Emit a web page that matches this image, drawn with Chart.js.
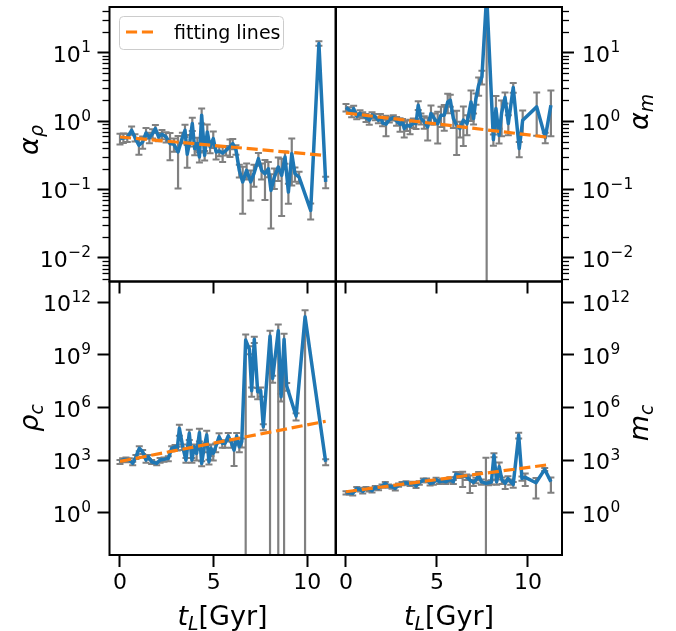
<!DOCTYPE html>
<html>
<head>
<meta charset="utf-8">
<script src="https://cdn.jsdelivr.net/npm/chart.js@4.4.1/dist/chart.umd.min.js"></script>
<style>
  html, body { margin: 0; padding: 0; background: #fff; }
  #wrap { position: relative; width: 676px; height: 631px; }
  #wrap canvas { position: absolute; left: 0; top: 0; }
</style>
</head>
<body>
<div id="wrap">
  <canvas id="tl" width="676" height="631"></canvas>
  <canvas id="tr" width="676" height="631"></canvas>
  <canvas id="bl" width="676" height="631"></canvas>
  <canvas id="br" width="676" height="631"></canvas>
</div>
<script>
// ---- data ----
// top left: alpha_rho vs t_L
const tAlphaRho = [0.00,0.18,0.39,0.62,0.80,1.01,1.21,1.39,1.57,1.74,1.89,2.06,2.24,2.46,2.67,2.88,3.10,3.33,3.47,3.59,
  3.74,3.86,3.99,4.13,4.24,4.36,4.52,4.66,4.81,4.98,5.13,5.30,5.48,5.66,5.87,6.02,6.19,6.37,6.55,6.76,
  6.98,7.15,7.39,7.56,7.74,7.92,8.06,8.24,8.45,8.63,8.81,8.99,9.17,9.34,9.56,10.18,10.62,10.98];
const alphaRho = [0.554,0.566,0.573,0.733,0.573,0.442,0.494,0.67,0.573,0.656,0.776,0.586,0.641,0.586,0.468,0.457,0.353,0.573,0.733,0.327,
  0.524,0.918,0.396,0.468,0.298,1.22,0.316,0.693,0.418,0.554,0.353,0.366,0.341,0.373,0.418,0.468,0.382,0.19,0.129,0.19,
  0.129,0.17,0.282,0.19,0.17,0.201,0.097,0.152,0.213,0.161,0.298,0.0917,0.334,0.17,0.152,0.0494,13.6,0.129];
const alphaRhoErr = [0.1,0.09,0.08,0.1,0.07,0.12,0.1,0.12,0.1,0.1,0.1,0.08,0.1,0.1,0.2,0.1,0.25,0.1,0.15,0.12,
  0.1,0.2,0.08,0.1,0.05,0.3,0.05,0.2,0.08,0.15,0.08,0.06,0.09,0.06,0.12,0.08,0.06,0.04,0.085,0.05,
  0.06,0.06,0.06,0.05,0.1,0.05,0.07,0.05,0.08,0.12,0.06,0.03,0.22,0.04,0.03,0.013,1.0,0.025];

// top right: alpha_m vs t_L
const tAlphaM = [0.00,0.18,0.31,0.42,0.59,0.77,0.92,1.10,1.28,1.43,1.61,1.78,1.89,2.01,2.20,2.38,2.60,2.78,2.97,3.11,
  3.20,3.35,3.52,3.70,3.85,3.97,4.12,4.30,4.49,4.67,4.85,5.04,5.22,5.40,5.59,5.73,5.90,6.08,6.26,6.45,
  6.65,6.87,7.01,7.14,7.29,7.47,7.73,8.10,8.24,8.41,8.55,8.74,8.92,9.19,9.52,9.71,10.48,10.95,11.26];
const alphaM = [1.58,1.44,1.29,1.52,1.18,1.29,1.22,1.12,1.03,1.22,1.15,1.03,1.15,0.94,0.898,1.05,1.12,1.0,0.898,0.97,
  0.776,0.868,0.84,0.94,0.918,1.70,1.09,0.97,0.82,1.29,1.09,0.918,1.22,1.22,1.90,2.02,1.09,0.868,0.776,1.03,
  0.918,1.90,1.09,2.13,3.34,4.43,70,0.536,1.52,0.62,1.3,2.21,0.918,3.09,0.396,1.03,1.61,0.573,1.70];
const alphaMErr = [0.2,0.15,0.15,0.15,0.12,0.15,0.12,0.15,0.15,0.12,0.12,0.1,0.12,0.1,0.3,0.1,0.1,0.15,0.2,0.1,
  0.2,0.15,0.2,0.15,0.15,0.25,0.2,0.2,0.3,0.4,0.2,0.45,0.4,0.5,0.6,0.4,0.3,0.55,0.2,0.6,
  0.3,0.9,0.2,0.4,1.0,1.0,150,0.1,0.8,0.15,0.7,0.4,0.3,0.5,0.1,0.4,1.0,0.1,1.1];

// bottom left: rho_c vs t_L
const tRhoC = [0.00,0.14,0.32,0.50,0.68,0.85,1.03,1.21,1.39,1.51,1.69,1.96,2.14,2.35,2.58,2.76,2.94,3.06,3.17,3.35,
  3.52,3.70,3.84,3.97,4.09,4.24,4.36,4.50,4.63,4.75,4.86,4.98,5.11,5.29,5.46,5.61,5.78,5.96,6.09,6.23,
  6.37,6.50,6.71,6.91,7.03,7.17,7.35,7.51,7.65,8.01,8.15,8.45,8.60,8.76,8.90,9.40,9.88,10.98];
const rhoC = [813,1014,1109,1014,655,1567,4710,3020,1014,1567,813,655,1014,1109,1260,4710,5820,4710,6.5e4,5820,
  1014,3.4e4,1014,5820,2450,3.66e4,655,5820,2.7e4,813,4710,2450,5820,2.17e4,9100,9100,2.37e4,9100,3760,2.37e4,
  5820,1.12e4,7.1e9,2.1e9,9.1e6,7.8e9,8e6,9.1e6,8.05e4,1.2e10,4.6e7,2.4e10,4.2e6,7.8e9,1.7e7,3.3e5,1.5e11,813];
const rhoCErr = [200,250,300,250,150,400,1500,800,300,400,200,150,300,300,400,1500,1500,1200,4e4,2000,
  300,2e4,300,2000,1500,2.5e4,200,3000,2e4,250,3000,1500,3000,1.2e4,4000,4000,1.2e4,4000,3300,1.2e4,
  3000,6000,7.5e9,1e9,5e6,3e9,5e6,5e6,3e4,1.22e10,2e7,3.1e10,2e6,8.5e9,8e6,1.5e5,2.1e11,300];

// bottom right: m_c vs t_L
const tMC = [0.00,0.18,0.37,0.59,0.77,0.92,1.10,1.28,1.43,1.61,1.79,1.98,2.16,2.34,2.53,2.71,2.89,3.08,3.30,3.52,
  3.70,3.85,4.03,4.25,4.43,4.62,4.80,4.95,5.13,5.31,5.49,5.71,5.90,6.04,6.23,6.41,6.63,6.81,7.00,7.14,
  7.29,7.44,7.69,7.84,7.99,8.13,8.28,8.42,8.57,8.75,8.90,9.05,9.19,9.49,9.67,9.85,10.44,10.92,11.26];
const mC = [13.9,13.9,12.7,24.5,21.5,16.6,24.5,21.5,18.1,28,24.5,33.4,47.3,33.4,30.5,24.5,38,47.3,51.6,43.4,
  47.3,33.4,51.6,73.3,73.3,47.3,51.6,80,58.9,67.2,58.9,80,58.9,161,141,124,114,73.3,54,73.3,
  141,58.9,47.3,51.6,56.4,1955,58.9,423,73.3,47.3,91,58.9,41.5,2.7e4,91,104,51.6,298,58.9];
const mCErr = [3,3,3,5,5,4,5,5,4,6,5,7,10,7,7,6,8,10,12,10,
  12,8,12,18,18,12,12,20,15,20,15,25,15,50,45,95,40,60,20,25,
  70,20,1330,15,15,500,20,300,30,25,30,20,15,1e4,25,70,45,60,45];

// fitting lines (end points)
const fitTLeft = [0, 10.98];
const fitTRight = [0, 11.26];
const fitAlphaRho = [0.585, 0.313];
const fitAlphaM = [1.31, 0.573];
const fitRhoC = [850, 1.65e5];
const fitMC = [15.8, 575];

// ticks
const xTicks = [0, 5, 10];
const yTicksTop = [0.01, 0.1, 1, 10];
const yTicksBottom = [1, 1e3, 1e6, 1e9, 1e12];

// ---- helpers ----
const BLUE = '#1f77b4', ORANGE = '#ff7f0e', GRAY = '#808080';
const FONT = 'DejaVu Sans';
Chart.defaults.font.family = FONT;
Chart.defaults.color = '#000';

const pts = (t, v) => t.map((x, i) => ({x: x, y: v[i]}));

// one segment per point, broken by nulls; caps are 'line' point markers
function errPts(t, v, e, floor) {
  const out = [];
  t.forEach((x, i) => {
    const lo = v[i] - e[i];
    out.push({x: x, y: lo > 0 ? lo : floor});
    out.push({x: x, y: v[i] + e[i]});
    out.push({x: x, y: null});
  });
  return out;
}

function drawMath(ctx, parts, size, x, y, rotate) {
  ctx.save();
  ctx.translate(x, y);
  if (rotate) ctx.rotate(-Math.PI / 2);
  const fontOf = p => (p.it ? 'italic ' : '') + (p.sub ? size * 0.7 : size) + 'px "' + FONT + '"';
  let w = 0;
  const ws = parts.map(p => { ctx.font = fontOf(p); const m = ctx.measureText(p.t).width; w += m; return m; });
  let cx = -w / 2;
  ctx.fillStyle = '#000';
  ctx.textAlign = 'left';
  ctx.textBaseline = 'alphabetic';
  parts.forEach((p, i) => {
    ctx.font = fontOf(p);
    ctx.fillText(p.t, cx, p.sub ? size * 0.2 : 0);
    cx += ws[i];
  });
  ctx.restore();
}

// "10" with a raised exponent, vertically centred on y
function drawPow(ctx, v, x, y, alignRight) {
  const exp = String(Math.round(Math.log10(v))).replace('-', '\u2212');
  const big = 22, small = 15.4;
  ctx.font = big + 'px "' + FONT + '"';
  const wb = ctx.measureText('10').width;
  ctx.font = small + 'px "' + FONT + '"';
  const we = ctx.measureText(exp).width;
  const x0 = alignRight ? x - wb - we : x;
  const base = y + 9;
  ctx.fillStyle = '#000';
  ctx.textAlign = 'left';
  ctx.textBaseline = 'alphabetic';
  ctx.font = big + 'px "' + FONT + '"';
  ctx.fillText('10', x0, base);
  ctx.font = small + 'px "' + FONT + '"';
  ctx.fillText(exp, x0 + wb + 0.5, base - 9.5);
}

// frame, minor ticks, y tick labels, axis titles, legend
const decor = {
  id: 'decor',
  afterDraw(chart, args, o) {
    const ctx = chart.ctx, a = chart.chartArea, ys = chart.scales.y;
    const left = o.side === 'left';
    ctx.save();
    if (o.minor) {
      ctx.strokeStyle = '#000';
      ctx.lineWidth = 1.3;
      const lo = Math.floor(Math.log10(ys.min)), hi = Math.ceil(Math.log10(ys.max));
      for (let n = lo; n <= hi; n++) {
        for (let k = 2; k <= 9; k++) {
          const v = k * Math.pow(10, n);
          if (v < ys.min || v > ys.max) continue;
          const py = Math.round(ys.getPixelForValue(v)) + 0.5;
          const x0 = left ? a.left : a.right;
          const x1 = left ? a.left - 7 : a.right + 7;
          ctx.beginPath(); ctx.moveTo(x0, py); ctx.lineTo(x1, py); ctx.stroke();
        }
      }
    }
    ys.ticks.forEach(tk => {
      const py = ys.getPixelForValue(tk.value);
      drawPow(ctx, tk.value, left ? a.left - 19 : a.right + 20, py, left);
    });

    ctx.strokeStyle = '#000';
    ctx.lineWidth = 2;
    ctx.strokeRect(a.left, a.top, a.right - a.left, a.bottom - a.top);

    if (o.yTitle) drawMath(ctx, o.yTitle, 27, o.yTitleX, o.yTitleY, true);
    if (o.xTitle) drawMath(ctx, [{t: 't', it: true}, {t: 'L', it: true, sub: true}, {t: '[Gyr]'}], 27,
      (a.left + a.right) / 2, 625, false);

    if (o.legend) {
      const x = 119.5, y = 16.5, w = 164, h = 33, r = 4;
      ctx.beginPath();
      ctx.moveTo(x + r, y); ctx.lineTo(x + w - r, y); ctx.arcTo(x + w, y, x + w, y + r, r);
      ctx.lineTo(x + w, y + h - r); ctx.arcTo(x + w, y + h, x + w - r, y + h, r);
      ctx.lineTo(x + r, y + h); ctx.arcTo(x, y + h, x, y + h - r, r);
      ctx.lineTo(x, y + r); ctx.arcTo(x, y, x + r, y, r);
      ctx.closePath();
      ctx.fillStyle = 'rgba(255,255,255,0.8)';
      ctx.fill();
      ctx.strokeStyle = '#cccccc';
      ctx.lineWidth = 1;
      ctx.stroke();
      ctx.setLineDash([11.1, 4.8]);
      ctx.strokeStyle = ORANGE;
      ctx.lineWidth = 3.2;
      ctx.beginPath(); ctx.moveTo(126, 32); ctx.lineTo(157, 32); ctx.stroke();
      ctx.setLineDash([]);
      ctx.fillStyle = '#000';
      ctx.font = '19px "' + FONT + '"';
      ctx.textBaseline = 'alphabetic';
      ctx.fillText('fitting lines', 174, 39);
    }
    ctx.restore();
  }
};

function panel(id, p) {
  const W = 676, H = 631;
  const left = p.side === 'left';
  new Chart(document.getElementById(id), {
    type: 'line',
    data: {
      datasets: [
        {data: pts(p.fitT, p.fitV), borderColor: ORANGE, borderWidth: 3.2, borderDash: [11.1, 4.8],
         pointRadius: 0, order: 0},
        {data: pts(p.t, p.v), borderColor: BLUE, borderWidth: 3.5, pointRadius: 0,
         borderJoinStyle: 'round', order: 1},
        {data: errPts(p.t, p.v, p.err, p.yMin / 100), borderColor: GRAY, borderWidth: 2.2,
         pointStyle: 'line', pointRadius: 3.5, pointBorderWidth: 2, pointBorderColor: GRAY,
         spanGaps: false, order: 2}
      ]
    },
    options: {
      responsive: false,
      animation: false,
      devicePixelRatio: 1,
      events: [],
      layout: {padding: {
        top: p.area.top,
        left: left ? 0 : p.area.left,
        right: left ? W - p.area.right : 0,
        bottom: 0
      }},
      plugins: {
        legend: {display: false},
        tooltip: {enabled: false},
        decor: p.decor
      },
      scales: {
        x: {
          type: 'linear', position: 'bottom', min: p.xMin, max: p.xMax, bounds: 'data',
          afterBuildTicks: s => { s.ticks = xTicks.map(v => ({value: v})); },
          afterFit: s => { s.height = H - p.area.bottom; },
          ticks: {display: p.xLabels, autoSkip: false, maxRotation: 0, padding: 3,
                  font: {size: 22}, callback: v => String(v)},
          grid: {drawOnChartArea: false, drawTicks: true, tickLength: 12, tickWidth: 2, tickColor: '#000'},
          border: {display: false}
        },
        y: {
          type: 'logarithmic', position: p.side, min: p.yMin, max: p.yMax, bounds: 'data',
          afterBuildTicks: s => { s.ticks = p.yTicks.map(v => ({value: v})); },
          afterFit: s => { s.width = left ? p.area.left : W - p.area.right; },
          ticks: {display: false},
          grid: {drawOnChartArea: false, drawTicks: true, tickLength: 12, tickWidth: 2, tickColor: '#000'},
          border: {display: false}
        }
      }
    },
    plugins: [decor]
  });
}

const topY = {yMin: 0.00452, yMax: 46.4, yTicks: yTicksTop};
const botY = {yMin: 0.00389, yMax: 1.55e13, yTicks: yTicksBottom};

panel('tl', Object.assign({
  side: 'left', area: {left: 109.5, top: 7, right: 335.5, bottom: 281.5},
  xMin: -0.56, xMax: 11.505, xLabels: false,
  t: tAlphaRho, v: alphaRho, err: alphaRhoErr, fitT: fitTLeft, fitV: fitAlphaRho,
  decor: {minor: true, side: 'left', legend: true,
          yTitle: [{t: '\u03B1', it: true}, {t: '\u03C1', it: true, sub: true}], yTitleX: 38, yTitleY: 140}
}, topY));

panel('tr', Object.assign({
  side: 'right', area: {left: 336, top: 7, right: 562, bottom: 281.5},
  xMin: -0.549, xMax: 11.87, xLabels: false,
  t: tAlphaM, v: alphaM, err: alphaMErr, fitT: fitTRight, fitV: fitAlphaM,
  decor: {minor: true, side: 'right',
          yTitle: [{t: '\u03B1', it: true}, {t: 'm', it: true, sub: true}], yTitleX: 648, yTitleY: 112}
}, topY));

panel('bl', Object.assign({
  side: 'left', area: {left: 109.5, top: 281.5, right: 335.5, bottom: 555},
  xMin: -0.56, xMax: 11.505, xLabels: true,
  t: tRhoC, v: rhoC, err: rhoCErr, fitT: fitTLeft, fitV: fitRhoC,
  decor: {minor: false, side: 'left', xTitle: true,
          yTitle: [{t: '\u03C1', it: true}, {t: 'c', it: true, sub: true}], yTitleX: 38, yTitleY: 418}
}, botY));

panel('br', Object.assign({
  side: 'right', area: {left: 336, top: 281.5, right: 562, bottom: 555},
  xMin: -0.549, xMax: 11.87, xLabels: true,
  t: tMC, v: mC, err: mCErr, fitT: fitTRight, fitV: fitMC,
  decor: {minor: false, side: 'right', xTitle: true,
          yTitle: [{t: 'm', it: true}, {t: 'c', it: true, sub: true}], yTitleX: 648, yTitleY: 423}
}, botY));
</script>
</body>
</html>
